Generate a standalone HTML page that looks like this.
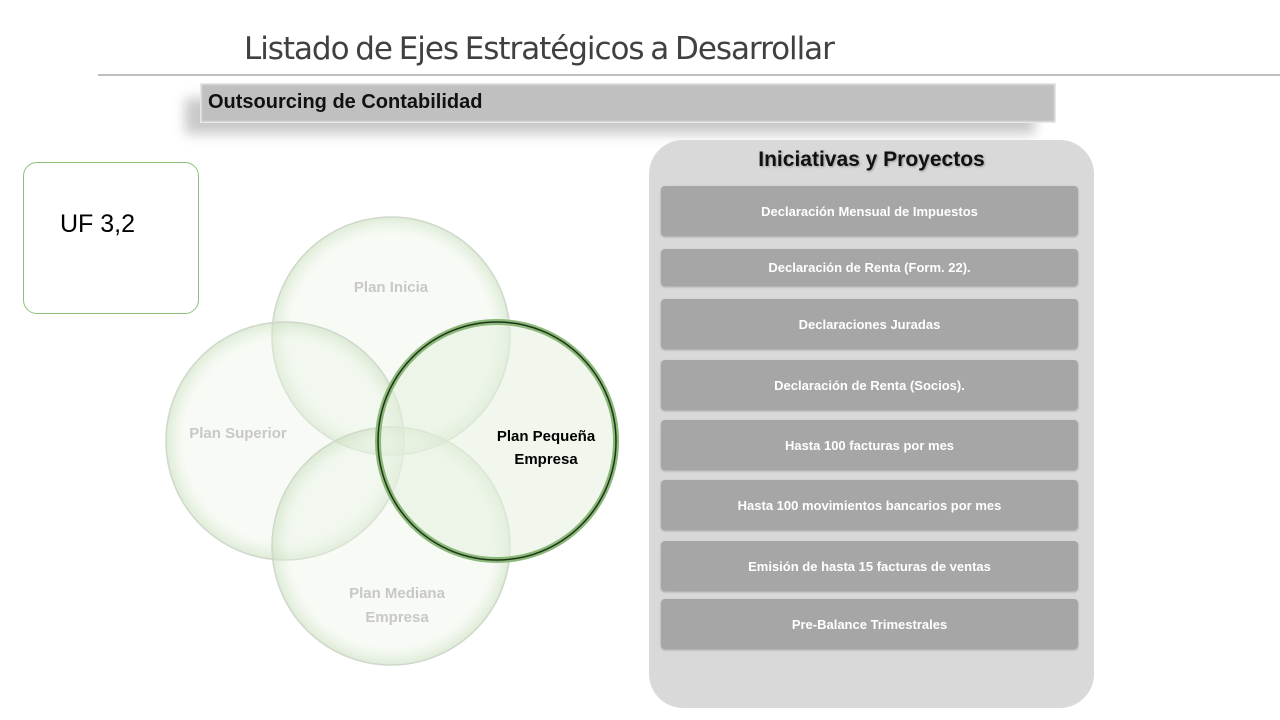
<!DOCTYPE html>
<html><head><meta charset="utf-8"><style>
body{margin:0;width:1280px;height:720px;background:#fff;position:relative;overflow:hidden;font-family:"Liberation Sans",sans-serif}
.a{position:absolute}
.title{left:244px;top:31px;font-size:31px;color:#404040;font-family:"DejaVu Sans","Liberation Sans",sans-serif;letter-spacing:-1.05px;word-spacing:-2px}
.item{position:absolute;left:661px;width:417px;height:50px;background:#a6a6a6;border-radius:4px;color:#fff;font-weight:bold;font-size:13px;display:flex;align-items:center;justify-content:center;box-shadow:0 1px 2px rgba(0,0,0,.25)}
</style></head><body>
<div class="a title">Listado de Ejes Estratégicos a Desarrollar</div>
<div class="a" style="left:98px;top:74px;width:1182px;height:2px;background:#bfbfbf"></div>
<div class="a" style="left:185px;top:98px;width:850px;height:36px;background:#bbb;filter:blur(6px);opacity:.8"></div>
<div class="a" style="left:200px;top:83px;width:854px;height:38px;background:#c0c0c0;border:1px solid #e8e8e8;box-shadow:inset 0 0 2px #fff;"></div>
<div class="a" style="left:208px;top:91px;font-size:20px;font-weight:bold;color:#111">Outsourcing de Contabilidad</div>
<div class="a" style="left:23px;top:162px;width:174px;height:150px;border:1px solid #8cc37a;border-radius:14px;"></div>
<div class="a" style="left:60px;top:210px;font-size:25px;color:#000">UF 3,2</div>
<svg class="a" style="left:0;top:0" width="1280" height="720">
<defs><radialGradient id="g" cx="50%" cy="50%" r="50%"><stop offset="0.85" stop-color="#e9f2e3" stop-opacity=".35"/><stop offset="1" stop-color="#c9dfbe" stop-opacity=".6"/></radialGradient></defs>
<g fill="url(#g)" stroke="#cfd8ca" stroke-width="1.5">
<circle cx="391" cy="336" r="119"/><circle cx="285" cy="441" r="119"/><circle cx="391" cy="546" r="119"/>
</g>
<circle cx="497" cy="441" r="119" fill="#e6f0df" fill-opacity=".55" stroke="#8ab878" stroke-width="6"/>
<circle cx="497" cy="441" r="119" fill="none" stroke="#1f3318" stroke-width="1.5"/>
<g font-family="Liberation Sans,sans-serif" font-weight="bold" font-size="15" text-anchor="middle" fill="#c8c8c8">
<text x="391" y="292">Plan Inicia</text><text x="238" y="438">Plan Superior</text>
<text x="397" y="598">Plan Mediana</text><text x="397" y="622">Empresa</text>
<text x="546" y="441" fill="#000">Plan Pequeña</text><text x="546" y="464" fill="#000">Empresa</text>
</g></svg>
<div class="a" style="left:649px;top:140px;width:445px;height:568px;background:#d9d9d9;border-radius:34px"></div>
<div class="a" style="left:649px;top:148px;width:445px;text-align:center;font-size:21px;font-weight:bold;color:#111;text-shadow:1px 1px 2px #999">Iniciativas y Proyectos</div>
<div class="item" style="top:186px">Declaración Mensual de Impuestos</div>
<div class="item" style="top:249px;height:37px">Declaración de Renta (Form. 22).</div>
<div class="item" style="top:299px">Declaraciones Juradas</div>
<div class="item" style="top:360px">Declaración de Renta (Socios).</div>
<div class="item" style="top:420px">Hasta 100 facturas por mes</div>
<div class="item" style="top:480px">Hasta 100 movimientos bancarios por mes</div>
<div class="item" style="top:541px">Emisión de hasta 15 facturas de ventas</div>
<div class="item" style="top:599px">Pre-Balance Trimestrales</div>
</body></html>
